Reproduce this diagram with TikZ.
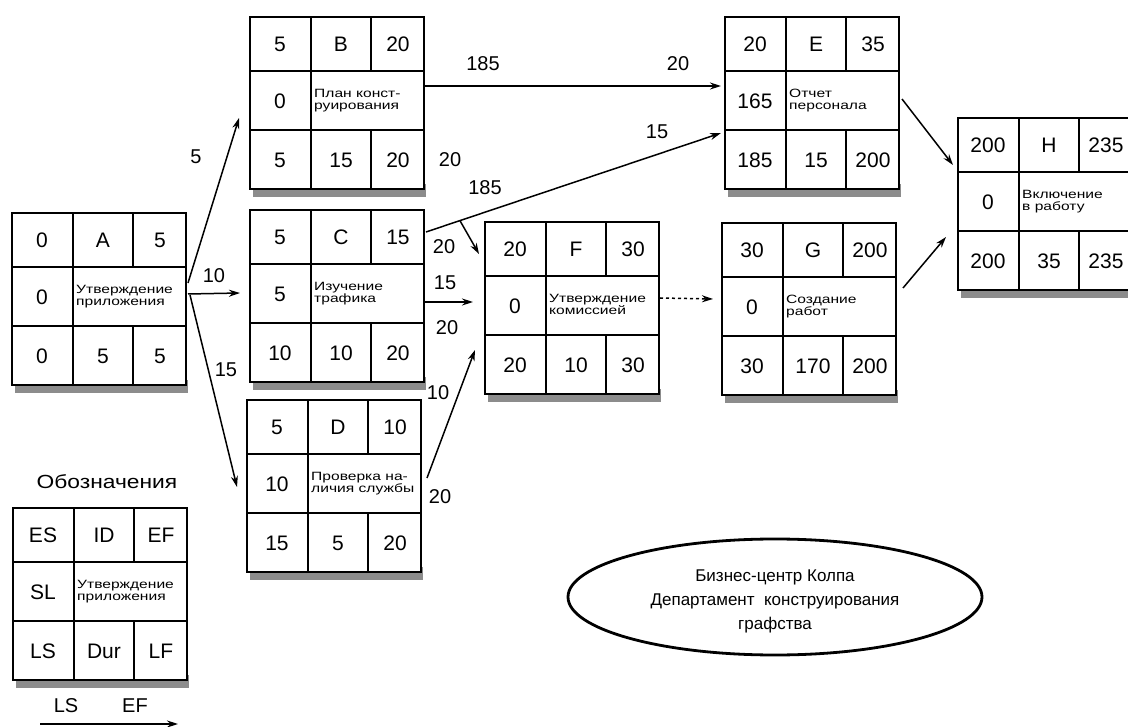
\documentclass[tikz,border=0pt]{standalone}
\usepackage{fontspec}
\setmainfont{Liberation Sans}
\usepackage{graphicx}
\usetikzlibrary{arrows.meta,calc,shapes.geometric}
\tikzset{
  boxframe/.style={draw, line width=1.8pt, anchor=north west, minimum width=174pt, minimum height=172pt, inner sep=0pt, outer sep=0pt},
  gridline/.style={line width=1.6pt},
  celltxt/.style={font=\fontsize{21}{23}\selectfont, inner sep=0pt},
  desctxt/.style={font=\fontsize{12}{13}\selectfont, inner sep=0pt, anchor=west},
  lbl/.style={font=\fontsize{20}{22}\selectfont, inner sep=0pt},
  conn/.style={line width=1.5pt, -{Stealth[length=11pt,width=7pt]}},
}
\renewcommand\arraystretch{0.95}
\newcommand\dsc[2]{\scalebox{1.3}[1]{\begin{tabular}{@{}l@{}}#1\\#2\end{tabular}}}
\newcommand\actbox[3]{%
  \fill[black!45] (#2+3,#3+167) rectangle (#2+176,#3+180);
  \node[boxframe, fill=white] (#1) at (#2,#3) {};
  \draw[gridline] ($(#1.north west)+(0,54)$) -- ($(#1.north east)+(0,54)$);
  \draw[gridline] ($(#1.north west)+(0,113)$) -- ($(#1.north east)+(0,113)$);
  \draw[gridline] ($(#1.north west)+(61,0)$) -- ($(#1.south west)+(61,0)$);
  \draw[gridline] ($(#1.north west)+(121,0)$) -- ($(#1.north west)+(121,54)$);
  \draw[gridline] ($(#1.north west)+(121,113)$) -- ($(#1.south west)+(121,0)$);
}
\newcommand\actfill[9]{%
  \node[celltxt] (#1-es) at ($(#1.north west)+(30,27)$) {#2};
  \node[celltxt] (#1-id) at ($(#1.north west)+(91,27)$) {#3};
  \node[celltxt] (#1-ef) at ($(#1.north west)+(148,27)$) {#4};
  \node[celltxt] (#1-sl) at ($(#1.north west)+(30,84)$) {#5};
  \node[desctxt] (#1-ds) at ($(#1.north west)+(64,84)$) {#6};
  \node[celltxt] (#1-ls) at ($(#1.north west)+(30,143)$) {#7};
  \node[celltxt] (#1-du) at ($(#1.north west)+(91,143)$) {#8};
  \node[celltxt] (#1-lf) at ($(#1.north west)+(148,143)$) {#9};
}
\begin{document}
\begin{tikzpicture}[x=1pt,y=-1pt]
\useasboundingbox (0,0) rectangle (1128,727);
\clip (0,0) rectangle (1128,727);
\fill[white] (0,0) rectangle (1128,727);

% activity boxes
\actbox{B}{250}{17}
\actfill{B}{5}{B}{20}{0}{\dsc{План конст-}{руирования}}{5}{15}{20}
\actbox{E}{725}{17}
\actfill{E}{20}{E}{35}{165}{\dsc{Отчет}{персонала}}{185}{15}{200}
\actbox{H}{958}{118}
\actfill{H}{200}{H}{235}{0}{\dsc{Включение}{в работу}}{200}{35}{235}
\actbox{A}{12}{213}
\actfill{A}{0}{A}{5}{0}{\dsc{Утверждение}{приложения}}{0}{5}{5}
\actbox{C}{250}{210}
\actfill{C}{5}{C}{15}{5}{\dsc{Изучение}{трафика}}{10}{10}{20}
\actbox{D}{247}{400}
\actfill{D}{5}{D}{10}{10}{\dsc{Проверка на-}{личия службы}}{15}{5}{20}
\actbox{F}{485}{222}
\actfill{F}{20}{F}{30}{0}{\dsc{Утверждение}{комиссией}}{20}{10}{30}
\actbox{G}{722}{223}
\actfill{G}{30}{G}{200}{0}{\dsc{Создание}{работ}}{30}{170}{200}

% legend
\node[font=\fontsize{19}{21}\selectfont, inner sep=0pt] (ltitle) at (107,482) {\scalebox{1.2}[1]{Обозначения}};
\actbox{L}{13}{508}
\actfill{L}{ES}{ID}{EF}{SL}{\dsc{Утверждение}{приложения}}{LS}{Dur}{LF}
\node[lbl] (lls) at (66,706) {LS};
\node[lbl] (lef) at (135,706) {EF};
\coordinate (la) at (40,724);
\coordinate (lb) at (178,724);
\draw[conn] (la) -- (lb);

% connectors
\draw[conn] ($(A.north east)+(2,70)$) -- ($(B.west)+(-11,15)$);
\draw[conn] ($(A.east)+(2,-5)$) -- ($(C.west)+(-10,-3)$);
\draw[conn] ($(A.east)+(4,-4)$) -- ($(D.west)+(-10,1)$);
\draw[conn] ($(B.east)+(0,-17)$) -- ($(E.west)+(-4,-17)$);
\coordinate (ce1) at ($(C.north east)+(2,22)$);
\coordinate (ce2) at ($(E.west)+(-4,30)$);
\draw[conn] (ce1) -- (ce2);
\coordinate (br) at ($(ce1)!0.115!(ce2)$);
\draw[conn] (br) -- ($(F.north west)+(-6,32)$);
\draw[conn] ($(C.east)+(1,6)$) -- ($(F.west)+(-12,-6)$);
\draw[conn] ($(D.north east)+(6,78)$) -- ($(F.south west)+(-10,-44)$);
\draw[conn, dashed] ($(F.east)+(1,-10)$) -- ($(G.west)+(-9,-10)$);
\draw[conn] ($(E.east)+(3,-4)$) -- ($(H.north west)+(-5,47)$);
\draw[conn] ($(G.east)+(7,-21)$) -- ($(H.west)+(-12,33)$);

% connector labels
\node[lbl] (l5) at (196,157) {5};
\node[lbl] (l10a) at (214,276) {10};
\node[lbl] (l15a) at (226,370) {15};
\node[lbl] (l185a) at (483,64) {185};
\node[lbl] (l20a) at (678,64) {20};
\node[lbl] (l20b) at (450,160) {20};
\node[lbl] (l185b) at (485,188) {185};
\node[lbl] (l15b) at (657,132) {15};
\node[lbl] (l20c) at (444,247) {20};
\node[lbl] (l15c) at (445,283) {15};
\node[lbl] (l20d) at (447,328) {20};
\node[lbl] (l10b) at (438,393) {10};
\node[lbl] (l20e) at (440,497) {20};

% title ellipse
\node[ellipse, draw, line width=2.8pt, minimum width=414pt, minimum height=116pt] (org) at (775,597) {};
\node[font=\fontsize{17}{24}\selectfont, align=center, inner sep=0pt] (orgtxt) at (775,601) {Бизнес-центр Колпа\\Департамент\ \ конструирования\\графства};
\end{tikzpicture}
\end{document}
